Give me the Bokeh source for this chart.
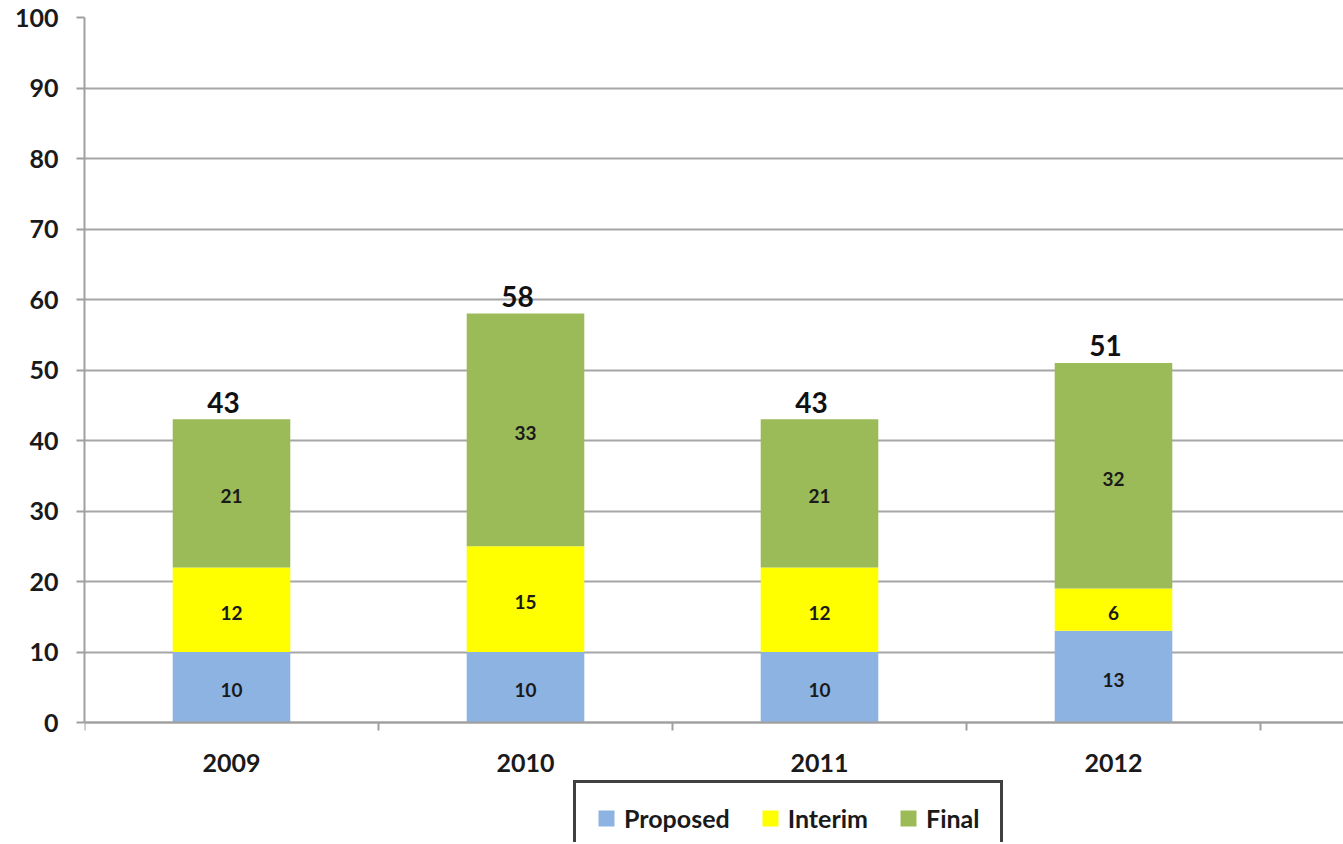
from bokeh.plotting import figure
from bokeh.models import Range1d, FixedTicker, Legend, LegendItem, ColumnDataSource, LinearAxis
from bokeh.core.properties import value
from bokeh.embed import file_html
from bokeh.resources import INLINE

years = ["2009", "2010", "2011", "2012"]
proposed = [10, 10, 10, 13]
interim = [12, 15, 12, 6]
final = [21, 33, 21, 32]
series = ["Proposed", "Interim", "Final"]
colors = ["#8DB3E2", "#FFFF00", "#9BBB59"]
y_ticks = list(range(0, 101, 10))

FONT = "Lato"
xs = [i + 0.5 for i in range(len(years))]
totals = [a + b + c for a, b, c in zip(proposed, interim, final)]

src = ColumnDataSource(dict(x=xs, Proposed=proposed, Interim=interim, Final=final))

W, H = 1343, 844
TOP, ZERO, BOT = 17, 722, 2
px_per_unit = (ZERO - TOP) / 100.0
frame_bottom = H - BOT
y_start = -(frame_bottom - ZERO) / px_per_unit

p = figure(width=W, height=H, output_backend="svg", toolbar_location=None,
           x_range=Range1d(0, (W - 84) / 294), y_range=Range1d(y_start, 100),
           x_axis_location=None,
           min_border_left=84, min_border_top=TOP, min_border_right=0, min_border_bottom=BOT)
p.outline_line_color = None
p.background_fill_color = "white"

rs = p.vbar_stack(series, x="x", width=0.4, color=colors, source=src, line_color=None)

# segment labels
lab_y, lab_x, lab_t = [], [], []
for i in range(len(years)):
    base = 0
    for vals in (proposed, interim, final):
        lab_x.append(xs[i]); lab_y.append(base + vals[i] / 2); lab_t.append(str(vals[i]))
        base += vals[i]
p.text(x=lab_x, y=lab_y, text=lab_t, text_align="center", text_baseline="middle",
       y_offset=3,
       text_font=value(FONT), text_font_style="bold", text_font_size="19px", text_color="#1a1a1a")
p.text(x=xs, y=totals, text=[str(t) for t in totals], text_align="center", text_baseline="middle",
       x_offset=-8, y_offset=-17,
       text_font=value(FONT), text_font_style="bold", text_font_size="28px", text_color="#111111")

# y axis
p.yaxis.ticker = FixedTicker(ticks=y_ticks)
p.yaxis.bounds = (0, 100)
p.yaxis.axis_line_color = "#A0A0A0"
p.yaxis.axis_line_width = 2
p.yaxis.major_tick_line_color = "#A0A0A0"
p.yaxis.major_tick_line_width = 2
p.yaxis.major_tick_out = 8
p.yaxis.major_tick_in = 0
p.yaxis.minor_tick_line_color = None
p.yaxis.major_label_text_font = FONT
p.yaxis.major_label_text_font_style = "bold"
p.yaxis.major_label_text_font_size = "25px"
p.yaxis.major_label_text_color = "#1a1a1a"
p.yaxis.major_label_standoff = 18

# x axis fixed at y=0, ticks at category boundaries
xaxis = LinearAxis(fixed_location=0,
                   ticker=FixedTicker(ticks=list(range(len(years) + 1))),
                   major_label_overrides={i: "" for i in range(len(years) + 1)},
                   major_label_text_font_size="1px", major_label_standoff=0)
xaxis.axis_line_color = "#A0A0A0"
xaxis.axis_line_width = 2
xaxis.major_tick_line_color = "#A0A0A0"
xaxis.major_tick_line_width = 2
xaxis.major_tick_out = 0
xaxis.major_tick_in = -8
xaxis.minor_tick_line_color = None
p.add_layout(xaxis, "below")

# category labels
p.text(x=xs, y=[0] * len(xs), text=years, text_align="center", text_baseline="middle",
       y_offset=40,
       text_font=value(FONT), text_font_style="bold", text_font_size="25px", text_color="#1a1a1a")

p.xgrid.grid_line_color = None
p.ygrid.ticker = FixedTicker(ticks=y_ticks)
p.ygrid.grid_line_color = "#A6A6A6"
p.ygrid.grid_line_width = 2

legend = Legend(items=[LegendItem(label=s, renderers=[r]) for s, r in zip(series, rs)],
                orientation="horizontal", location=(573 - 84, -(856 - frame_bottom)))
legend.label_text_font = FONT
legend.label_text_font_style = "bold"
legend.label_text_font_size = "25px"
legend.label_text_color = "#1a1a1a"
legend.glyph_width = 20
legend.glyph_height = 20
legend.label_standoff = 8
legend.spacing = 30
legend.padding = 20
legend.margin = 0
legend.border_line_color = "#404040"
legend.border_line_alpha = 1.0
legend.border_line_width = 3
legend.background_fill_alpha = 1.0
p.add_layout(legend)

open("out.html", "w").write(file_html(p, INLINE))
